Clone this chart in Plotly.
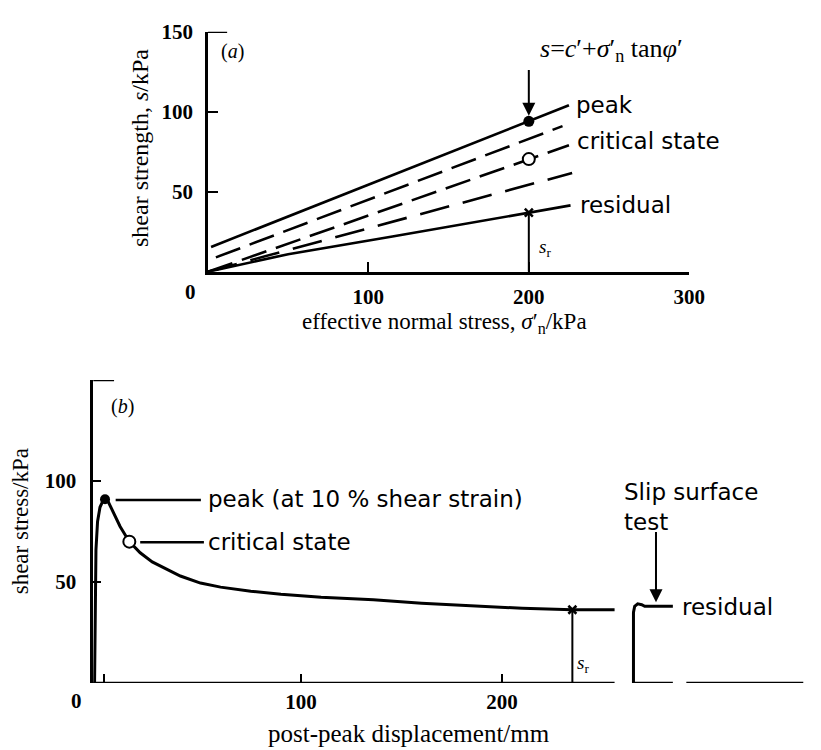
import plotly.graph_objects as go

# ---------------- data: panel (a) ----------------
sig_peak = [2, 225]
s_peak = [15.5, 104]
sig_dash1 = [5, 221]
s_dash1 = [9, 91]
sig_crit = [0, 225]
s_crit = [0, 79]
sig_dash2 = [0, 227]
s_dash2 = [0, 61.7]
sig_res = [0, 50, 115, 200, 226]
s_res = [0, 11, 22, 37, 41.5]
pt_peak = (200, 94)
pt_crit = (200, 70.4)
pt_res = (200, 37)

a_xticks = [100, 200, 300]
a_yticks = [50, 100, 150]

# ---------------- data: panel (b) ----------------
disp = [-2.7, -2.4, -2.0, -1.2, 0, 1.5, 2.5, 4, 7, 10, 14.6, 20, 26, 32, 40, 50,
        60, 75, 90, 110, 136, 160, 184, 210, 235, 256]
tau = [0, 40, 66, 80, 87, 90.3, 91, 90, 84, 77.5, 70, 64.5, 60, 57, 53, 49.5,
       47.5, 45.5, 44, 42.5, 41.2, 39.5, 38.2, 37, 36.3, 36.3]
slip_d = [265.4, 265.4, 266, 267.5, 269.5, 271, 285]
slip_t = [0, 35, 38, 39.2, 38.8, 38, 38]
b_peak = (2.5, 91)
b_crit = (14.6, 70)
b_res = (235, 36.3)

b_xticks = [2, 100, 200]
b_xticktext = [" ", "100", "200"]
b_yticks = [50, 100]

W, H = 821, 750
BLK = "black"
SERIF = "Liberation Serif"
SANS = "DejaVu Sans"

def fx(xp):
    return xp / W

def fy(yp):
    return (H - yp) / H

fig = go.Figure()

def line(x, y, xa, ya, dash="solid", width=2.6):
    fig.add_trace(go.Scatter(x=x, y=y, mode="lines", xaxis=xa, yaxis=ya,
                             line=dict(color=BLK, width=width, dash=dash),
                             hoverinfo="skip", showlegend=False))

# panel (a) lines
line(sig_peak, s_peak, "x", "y")
line(sig_dash1, s_dash1, "x", "y", dash="26px,10px")
line(sig_crit, s_crit, "x", "y", dash="26px,10px")
line(sig_dash2, s_dash2, "x", "y", dash="30px,14px")
line(sig_res, s_res, "x", "y")
line([pt_res[0], pt_res[0]], [0, pt_res[1]], "x", "y", width=2)

fig.add_trace(go.Scatter(x=[pt_peak[0]], y=[pt_peak[1]], mode="markers", xaxis="x", yaxis="y",
                         marker=dict(color=BLK, size=11), showlegend=False, hoverinfo="skip"))
fig.add_trace(go.Scatter(x=[pt_crit[0]], y=[pt_crit[1]], mode="markers", xaxis="x", yaxis="y",
                         marker=dict(color="white", size=12, line=dict(color=BLK, width=2)),
                         showlegend=False, hoverinfo="skip"))
fig.add_trace(go.Scatter(x=[pt_res[0]], y=[pt_res[1]], mode="markers", xaxis="x", yaxis="y",
                         marker=dict(symbol="x-thin", size=8, line=dict(color=BLK, width=2.5)),
                         showlegend=False, hoverinfo="skip"))

# panel (b) curves
line(disp, tau, "x2", "y2", width=3)
line(slip_d, slip_t, "x2", "y2", width=3)
line([b_res[0], b_res[0]], [0, b_res[1]], "x2", "y2", width=2)
fig.add_trace(go.Scatter(x=[b_peak[0]], y=[b_peak[1]], mode="markers", xaxis="x2", yaxis="y2",
                         marker=dict(color=BLK, size=10), showlegend=False, hoverinfo="skip"))
fig.add_trace(go.Scatter(x=[b_crit[0]], y=[b_crit[1]], mode="markers", xaxis="x2", yaxis="y2",
                         marker=dict(color="white", size=12, line=dict(color=BLK, width=2)),
                         showlegend=False, hoverinfo="skip"))
fig.add_trace(go.Scatter(x=[b_res[0]], y=[b_res[1]], mode="markers", xaxis="x2", yaxis="y2",
                         marker=dict(symbol="x-thin", size=8, line=dict(color=BLK, width=2.5)),
                         showlegend=False, hoverinfo="skip"))

tickfont = dict(family=SERIF, size=21, color=BLK, weight="bold")
XB_MAX = 350

fig.update_layout(
    width=W, height=H, autosize=False,
    margin=dict(l=0, r=0, t=0, b=0, pad=0),
    paper_bgcolor="white", plot_bgcolor="rgba(0,0,0,0)",
    showlegend=False,
    xaxis=dict(domain=[fx(212), fx(703)], range=[0, 300], anchor="y",
               showgrid=False, zeroline=False, showline=True, linecolor=BLK, linewidth=2.5,
               ticks="inside", ticklen=10, tickwidth=2, tickcolor=BLK,
               tickvals=a_xticks, ticktext=[str(v) for v in a_xticks],
               tickfont=tickfont, ticklabelstandoff=4),
    yaxis=dict(domain=[fy(264), fy(20)], range=[0, 150], anchor="x",
               showgrid=False, zeroline=False, showline=True, linecolor=BLK, linewidth=2.5,
               ticks="inside", ticklen=10, tickwidth=2, tickcolor=BLK,
               tickvals=a_yticks, ticktext=[str(v) for v in a_yticks],
               tickfont=tickfont, ticklabelstandoff=8),
    xaxis2=dict(domain=[fx(95), fx(819.5)], range=[-3.4, XB_MAX], anchor="y2",
                showgrid=False, zeroline=False, showline=False,
                ticks="inside", ticklen=9, tickwidth=2, tickcolor=BLK,
                tickvals=b_xticks, ticktext=b_xticktext,
                tickfont=tickfont, ticklabelstandoff=4),
    yaxis2=dict(domain=[fy(682), fy(374)], range=[0, 150], anchor="x2",
                showgrid=False, zeroline=False, showline=True, linecolor=BLK, linewidth=2.5,
                ticks="inside", ticklen=8, tickwidth=2, tickcolor=BLK,
                tickvals=b_yticks, ticktext=[str(v) for v in b_yticks],
                tickfont=tickfont, ticklabelstandoff=10),
)

shapes = [
    dict(type="line", xref="x", yref="y", x0=0, x1=12, y0=150, y1=150,
         line=dict(color=BLK, width=2.5)),
    dict(type="line", xref="x2", yref="y2", x0=-3.4, x1=7, y0=150, y1=150,
         line=dict(color=BLK, width=2.5)),
    dict(type="line", xref="x2", yref="y2", x0=-3.4, x1=256, y0=0, y1=0,
         line=dict(color=BLK, width=2.5)),
    dict(type="line", xref="x2", yref="y2", x0=265.4, x1=285, y0=0, y1=0,
         line=dict(color=BLK, width=2.5)),
    dict(type="line", xref="x2", yref="y2", x0=291.7, x1=XB_MAX, y0=0, y1=0,
         line=dict(color=BLK, width=2.5)),
    dict(type="line", xref="x2", yref="y2", x0=7.8, x1=50.2, y0=90.6, y1=90.6,
         line=dict(color=BLK, width=2.5)),
    dict(type="line", xref="x2", yref="y2", x0=20, x1=51.7, y0=69.7, y1=69.7,
         line=dict(color=BLK, width=2.5)),
]
fig.update_layout(shapes=shapes)

ann = []
def txt(x, y, text, xref, yref, size=23, family=SANS, xanchor="left", yanchor="middle", angle=0):
    ann.append(dict(x=x, y=y, xref=xref, yref=yref, text=text, showarrow=False,
                    xanchor=xanchor, yanchor=yanchor, textangle=angle, align="left",
                    font=dict(family=family, size=size, color=BLK)))

# panel (a) labels
txt(228, 104, "peak", "x", "y")
txt(228.5, 81.7, "critical state", "x", "y")
txt(230.5, 41.8, "residual", "x", "y")
txt(206, 127, "<i>s</i>=<i>c</i>′+<i>σ</i>′<sub>n</sub> tan<i>φ</i>′", "x", "y",
    size=26, family=SERIF, yanchor="bottom")
txt(210, 14.8, "<i>s</i><sub>r</sub>", "x", "y", size=19, family=SERIF, xanchor="center")
txt(15.3, 137.7, "(<i>a</i>)", "x", "y", size=20, family=SERIF, xanchor="center")

# panel (b) labels
txt(52.5, 91.1, "peak (at 10 % shear strain)", "x2", "y2")
txt(52.5, 69.7, "critical state", "x2", "y2")
txt(259.5, 87.2, "Slip surface<br>test", "x2", "y2")
txt(288.5, 37.5, "residual", "x2", "y2")
txt(240.5, 9.3, "<i>s</i><sub>r</sub>", "x2", "y2", size=19, family=SERIF, xanchor="center")
txt(11.2, 137, "(<i>b</i>)", "x2", "y2", size=20, family=SERIF, xanchor="center")

# axis titles and corner zeros
txt(fx(143), fy(138), "shear strength, <i>s</i>/kPa", "paper", "paper", size=24, family=SERIF,
    xanchor="center", angle=-90)
txt(fx(453), fy(316), "effective normal stress, <i>σ</i>′<sub>n</sub>/kPa", "paper", "paper",
    size=23, family=SERIF, xanchor="center")
txt(fx(21), fy(518), "shear stress/kPa", "paper", "paper", size=23, family=SERIF,
    xanchor="center", angle=-90)
txt(fx(417), fy(733), "post-peak displacement/mm", "paper", "paper", size=25, family=SERIF,
    xanchor="center")
zfont = dict(family=SERIF, size=21, color=BLK, weight="bold")
for (xp, yp) in [(194, 285), (78, 700)]:
    ann.append(dict(x=fx(xp), y=fy(yp), xref="paper", yref="paper", text="0", showarrow=False,
                    xanchor="center", yanchor="middle", font=zfont))

# arrows
ann.append(dict(x=pt_peak[0], y=97.5, ax=pt_peak[0], ay=127, xref="x", yref="y",
                axref="x", ayref="y", showarrow=True, arrowhead=2, arrowsize=1.3,
                arrowwidth=2, arrowcolor=BLK, text=""))
ann.append(dict(x=276.6, y=40, ax=276.6, ay=75.5, xref="x2", yref="y2",
                axref="x2", ayref="y2", showarrow=True, arrowhead=2, arrowsize=1.3,
                arrowwidth=2, arrowcolor=BLK, text=""))

fig.update_layout(annotations=ann)
fig.write_html("out.html", config={"responsive": False})
